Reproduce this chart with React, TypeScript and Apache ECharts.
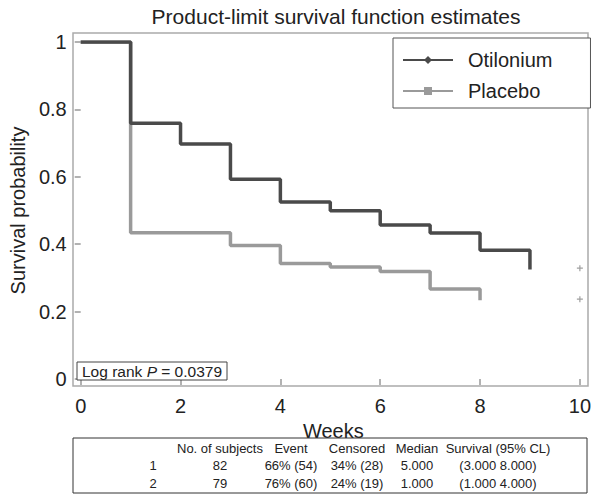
import React, { useEffect, useRef } from "react";
import * as echarts from "echarts";

const titleText = "Product-limit survival function estimates";
const xTicks = [0, 2, 4, 6, 8, 10];
const otiloniumWeeks = [0, 1, 2, 3, 4, 5, 6, 7, 8, 9];
const otiloniumSurv = [1, 0.759, 0.697, 0.593, 0.525, 0.499, 0.457, 0.433, 0.382, 0.325];
const placeboWeeks = [0, 1, 3, 4, 5, 6, 7, 8];
const placeboSurv = [1, 0.434, 0.396, 0.343, 0.332, 0.319, 0.267, 0.234];
const censorWeeks = [10, 10];
const censorSurv = [0.329, 0.237];
const seriesNames = ["Otilonium", "Placebo"];
const logRankP = "0.0379";

const tableHeader = ["", "No. of subjects", "Event", "Censored", "Median", "Survival (95% CL)"];
const tableRow1 = ["1", "82", "66% (54)", "34% (28)", "5.000", "(3.000 8.000)"];
const tableRow2 = ["2", "79", "76% (60)", "24% (19)", "1.000", "(1.000 4.000)"];

const FONT = "'Liberation Sans', Arial, Helvetica, sans-serif";

export default function App() {
  const ref = useRef<HTMLDivElement>(null);
  useEffect(() => {
    if (!ref.current) return;
    const chart = echarts.init(ref.current, null, { renderer: "svg" });

    const colX = [153, 220, 291, 357, 417, 498];
    const rowY = [448, 465, 483];
    const tableTexts: any[] = [];
    [tableHeader, tableRow1, tableRow2].forEach((row, ri) => {
      row.forEach((cell, ci) => {
        if (!cell) return;
        tableTexts.push({
          type: "text",
          x: colX[ci],
          y: rowY[ri],
          z: 10,
          style: {
            text: cell,
            fontSize: 13,
            fontFamily: FONT,
            fill: "#222",
            align: "center",
            verticalAlign: "middle",
          },
        });
      });
    });

    const toPairs = (xs: number[], ys: number[]) => xs.map((x, i) => [x, ys[i]]);

    chart.setOption({
      animation: false,
      backgroundColor: "#fff",
      textStyle: { fontFamily: FONT },
      title: {
        text: titleText,
        left: 331,
        top: 1,
        textAlign: "center",
        textStyle: { fontSize: 21, fontWeight: "normal", color: "#222", fontFamily: FONT },
      },
      grid: { left: 80, right: 14, top: 42, bottom: 117, containLabel: false },
      legend: {
        data: seriesNames,
        orient: "vertical",
        left: 393,
        top: 38,
        itemWidth: 50,
        itemHeight: 10,
        itemGap: 9,
        padding: [11, 38, 6, 9],
        backgroundColor: "#fff",
        borderColor: "#555",
        borderWidth: 1,
        borderRadius: 0,
        z: 20,
        textStyle: { fontSize: 20, lineHeight: 22, color: "#222", fontFamily: FONT, padding: [0, 0, 0, 10] },
      },
      xAxis: {
        type: "value",
        min: 0,
        max: 10,
        interval: 2,
        offset: 7,
        axisLine: { show: false },
        axisTick: { show: true, length: 6, lineStyle: { color: "#999", width: 1.5 } },
        axisLabel: { fontSize: 20, color: "#222", margin: 10, fontFamily: FONT },
        splitLine: { show: false },
        name: "Weeks",
        nameLocation: "middle",
        nameGap: 22,
        nameTextStyle: { fontSize: 20, color: "#222", fontFamily: FONT, padding: [0, 0, 0, 6] },
      },
      yAxis: {
        type: "value",
        min: 0,
        max: 1,
        interval: 0.2,
        offset: 7,
        axisLine: { show: false },
        axisTick: { show: true, length: 6, lineStyle: { color: "#999", width: 1.5 } },
        axisLabel: { fontSize: 20, color: "#222", margin: 7, fontFamily: FONT },
        splitLine: { show: false },
        name: "Survival probability",
        nameLocation: "middle",
        nameGap: 41,
        nameTextStyle: { fontSize: 20, color: "#222", fontFamily: FONT },
      },
      series: [
        {
          name: "Placebo",
          type: "line",
          step: "end",
          data: toPairs(placeboWeeks, placeboSurv),
          symbol: "rect",
          symbolSize: 8,
          showSymbol: false,
          z: 3,
          lineStyle: { color: "#9a9a9a", width: 3.5 },
          itemStyle: { color: "#9a9a9a" },
        },
        {
          name: "Otilonium",
          type: "line",
          step: "end",
          data: toPairs(otiloniumWeeks, otiloniumSurv),
          symbol: "diamond",
          symbolSize: 9,
          showSymbol: false,
          z: 4,
          lineStyle: { color: "#4a4a4a", width: 3.5 },
          itemStyle: { color: "#4a4a4a" },
        },
        {
          name: "Censored",
          type: "scatter",
          data: toPairs(censorWeeks, censorSurv),
          symbol: "path://M2,0H3V2H5V3H3V5H2V3H0V2H2Z",
          symbolSize: 6,
          itemStyle: { color: "#888" },
          z: 5,
        },
      ],
      graphic: [
        {
          type: "rect",
          shape: { x: 73, y: 33, width: 515, height: 353 },
          z: 1,
          style: { fill: "none", stroke: "#aaa", lineWidth: 1.5 },
        },
        {
          type: "rect",
          shape: { x: 77, y: 362, width: 150, height: 18 },
          z: 10,
          style: { fill: "#fff", stroke: "#444", lineWidth: 1 },
        },
        {
          type: "text",
          x: 82,
          y: 371.5,
          z: 11,
          style: {
            text: "Log rank {i|P} = " + logRankP,
            fontSize: 15.5,
            fontFamily: FONT,
            fill: "#222",
            verticalAlign: "middle",
            rich: { i: { fontStyle: "italic", fontSize: 15.5, fontFamily: FONT, fill: "#222" } },
          },
        },
        {
          type: "rect",
          shape: { x: 73, y: 438, width: 514, height: 55 },
          z: 10,
          style: { fill: "#fff", stroke: "#333", lineWidth: 1 },
        },
        ...tableTexts,
      ],
    });
    return () => chart.dispose();
  }, []);
  return (
    <div
      ref={ref}
      style={{ position: "fixed", left: 0, top: 0, width: 594, height: 496 }}
    />
  );
}
